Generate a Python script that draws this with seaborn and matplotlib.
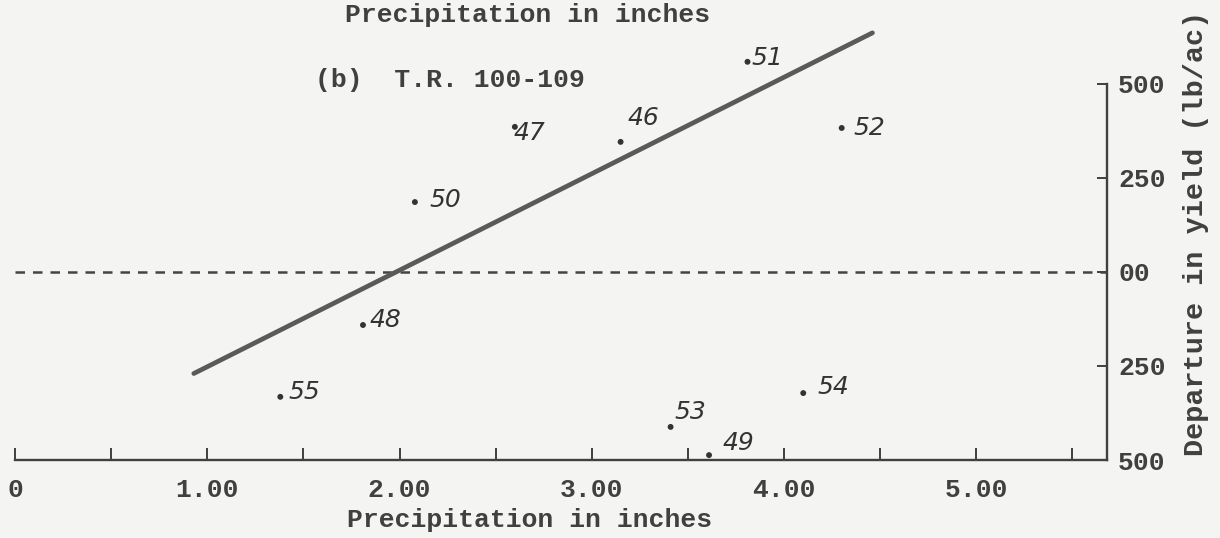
import matplotlib
matplotlib.use("Agg")
import matplotlib.pyplot as plt
import seaborn as sns
import pandas as pd

# Crop years (plotted as labels), precipitation and departure in yield
years = ["50", "48", "55", "51", "46", "47", "52", "53", "49", "54"]
precip = [2.08, 1.81, 1.38, 3.81, 3.15, 2.60, 4.30, 3.41, 3.61, 4.10]
departure = [186, -141, -332, 559, 346, 386, 383, -412, -487, -322]

# Fitted trend line end points
fit_precip = [0.93, 4.46]
fit_departure = [-270, 636]

x_ticks = [0, 0.5, 1.0, 1.5, 2.0, 2.5, 3.0, 3.5, 4.0, 4.5, 5.0, 5.5]
x_tick_labels = ["0", "", "1.00", "", "2.00", "", "3.00", "", "4.00", "", "5.00", ""]
y_ticks = [-500, -250, 0, 250, 500]
y_tick_labels = ["500", "250", "00", "250", "500"]

points = pd.DataFrame({"year": years, "precip": precip, "departure": departure})
trend = pd.DataFrame({"precip": fit_precip, "departure": fit_departure})

sns.set_theme(style="white")
plt.rcParams["font.family"] = ["Liberation Mono", "DejaVu Sans"]

ink = "#404040"
paper = "#f4f4f2"

W, H = 1220, 538
fig = plt.figure(figsize=(W / 100, H / 100), dpi=100, facecolor=paper)
ax = fig.add_axes([15 / W, 78 / H, 1092 / W, 443.7 / H])
ax.set_facecolor("none")
ax.set_xlim(0, 5.68)
ax.set_ylim(-500, 680)

# zero-departure reference line
ax.axhline(0, color="#444444", lw=1.8, ls=(0, (3.8, 3.2)), zorder=1)

# trend line
sns.lineplot(data=trend, x="precip", y="departure", ax=ax, color="#5a5a5a",
             lw=3.4, solid_capstyle="round", zorder=2)

# yearly observations
sns.scatterplot(data=points, x="precip", y="departure", ax=ax, s=18,
                color="#333333", edgecolor="none", zorder=3)

label_offsets = {"50": (30, 2), "48": (22, 5), "55": (24, 5), "51": (20, 4),
                 "46": (23, 24), "47": (15, -6), "52": (28, 0), "53": (20, 15),
                 "49": (29, 12), "54": (30, 6)}
for yr, px, dep in zip(years, precip, departure):
    ax.annotate(yr, (px, dep), xytext=label_offsets[yr], textcoords="offset pixels",
                ha="center", va="center", fontsize=18, style="italic",
                family="DejaVu Sans", color="#333333")

# axes frame: bottom and right only
for side in ("top", "left"):
    ax.spines[side].set_visible(False)
ax.spines["bottom"].set_color(ink)
ax.spines["bottom"].set_linewidth(1.7)
ax.spines["right"].set_color(ink)
ax.spines["right"].set_linewidth(1.7)
ax.spines["right"].set_bounds(-500, 500)

ax.set_xticks(x_ticks)
ax.set_xticklabels(x_tick_labels)
ax.tick_params(axis="x", direction="in", length=9, width=1.4, color=ink,
               pad=13, labelsize=19, labelcolor=ink, bottom=True)
for lbl in ax.get_xticklabels():
    lbl.set_fontweight("bold")

ax.yaxis.tick_right()
ax.set_yticks(y_ticks)
ax.set_yticklabels(y_tick_labels)
ax.tick_params(axis="y", direction="in", length=7, width=1.4, color=ink,
               pad=8, labelsize=19, labelcolor=ink, right=True, left=False)
for lbl in ax.get_yticklabels():
    lbl.set_fontweight("bold")

ax.set_xlabel("Precipitation in inches", fontsize=19, color=ink, fontweight="bold")
ax.xaxis.set_label_coords(0.4716, -0.108)
ax.yaxis.set_label_position("right")
ax.set_ylabel("Departure in yield (lb/ac)", fontsize=20.5, color=ink,
              fontweight="bold", rotation=90)
ax.yaxis.set_label_coords(1.07, 0.51)

ax.text(0.3983, 0.8564, "(b)  T.R. 100-109", transform=ax.transAxes,
        ha="center", va="center", fontsize=19, color=ink, fontweight="bold")
fig.text(528 / W, 1 - 15 / H, "Precipitation in inches", ha="center", va="center",
         fontsize=19, color=ink, fontweight="bold")

fig.savefig("out.png", dpi=100, facecolor=paper)
